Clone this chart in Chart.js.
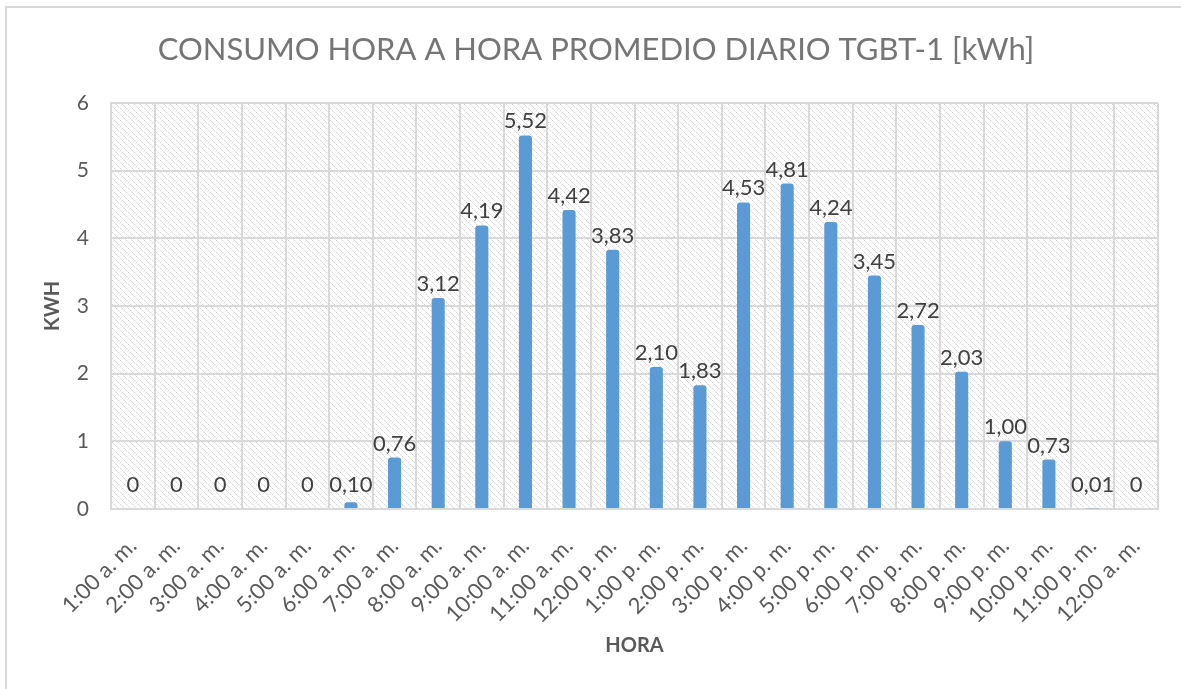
<!DOCTYPE html>
<html lang="es">
<head>
<meta charset="UTF-8">
<title>Consumo hora a hora TGBT-1</title>
<script src="https://cdn.jsdelivr.net/npm/chart.js"></script>
<style>
  html, body { margin: 0; padding: 0; background: #fff; overflow: hidden; }
  .frame { position: absolute; left: 5px; top: 6px; width: 1300px; height: 800px;
           border-left: 2px solid #d9d9d9; border-top: 2px solid #d9d9d9; }
  .wrap { position: absolute; left: 0; top: 0; width: 1181px; height: 689px; }
</style>
</head>
<body>
<div class="frame"></div>
<div class="wrap"><canvas id="kwhChart" width="1181" height="689"></canvas></div>
<script>
const titulo = 'CONSUMO HORA A HORA PROMEDIO DIARIO TGBT-1 [kWh]';
const horas = ['1:00 a. m.', '2:00 a. m.', '3:00 a. m.', '4:00 a. m.', '5:00 a. m.', '6:00 a. m.',
  '7:00 a. m.', '8:00 a. m.', '9:00 a. m.', '10:00 a. m.', '11:00 a. m.', '12:00 p. m.',
  '1:00 p. m.', '2:00 p. m.', '3:00 p. m.', '4:00 p. m.', '5:00 p. m.', '6:00 p. m.',
  '7:00 p. m.', '8:00 p. m.', '9:00 p. m.', '10:00 p. m.', '11:00 p. m.', '12:00 a. m.'];
const consumo = [0, 0, 0, 0, 0, 0.10, 0.76, 3.12, 4.19, 5.52, 4.42, 3.83,
  2.10, 1.83, 4.53, 4.81, 4.24, 3.45, 2.72, 2.03, 1.00, 0.73, 0.01, 0];
const yTicks = [0, 1, 2, 3, 4, 5, 6];

const FONT = 'Lato, "Open Sans", sans-serif';
const gridColor = '#d9d9d9';

// hatched fill for the plot area
function makeHatch() {
  const c = document.createElement('canvas');
  c.width = 6; c.height = 6;
  const g = c.getContext('2d');
  for (let i = 0; i < 6; i++) {
    g.fillStyle = i % 2 === 0 ? '#d4d4d4' : '#e8e8e8';
    g.fillRect(i, i, 1, 1);
  }
  return g.createPattern(c, 'repeat');
}

const hatchPlugin = {
  id: 'hatch',
  beforeDraw(chart) {
    const a = chart.chartArea;
    const ctx = chart.ctx;
    ctx.save();
    ctx.fillStyle = makeHatch();
    ctx.fillRect(a.left, a.top, a.right - a.left, a.bottom - a.top);
    ctx.restore();
  }
};

// title drawn centred on the whole frame, like the original
const titlePlugin = {
  id: 'frameTitle',
  afterDraw(chart) {
    const ctx = chart.ctx;
    ctx.save();
    ctx.font = '31px ' + FONT;
    ctx.fillStyle = '#757575';
    ctx.textAlign = 'center';
    ctx.textBaseline = 'middle';
    ctx.fillText(titulo, 596, 50);
    ctx.restore();
  }
};

const fmt = v => v === 0 ? '0' : v.toFixed(2).replace('.', ',');

const labelPlugin = {
  id: 'valueLabels',
  afterDatasetsDraw(chart) {
    const ctx = chart.ctx;
    const meta = chart.getDatasetMeta(0);
    const lowest = chart.chartArea.bottom - 17;
    ctx.save();
    ctx.font = '22px ' + FONT;
    ctx.fillStyle = '#404040';
    ctx.textAlign = 'center';
    ctx.textBaseline = 'alphabetic';
    meta.data.forEach((bar, i) => {
      ctx.fillText(fmt(consumo[i]), bar.x, Math.min(bar.y - 7, lowest));
    });
    ctx.restore();
  }
};

const ctx = document.getElementById('kwhChart').getContext('2d');
const chart = new Chart(ctx, {
  type: 'bar',
  data: {
    labels: horas,
    datasets: [{
      label: 'kWh',
      data: consumo,
      backgroundColor: '#5b9bd5',
      borderRadius: { topLeft: 3, topRight: 3 },
      borderSkipped: 'bottom',
      barPercentage: 0.3,
      categoryPercentage: 1
    }]
  },
  options: {
    responsive: false,
    animation: false,
    layout: { padding: { left: 5, right: 23, top: 103, bottom: 0 } },
    plugins: {
      legend: { display: false },
      tooltip: { enabled: false },
      title: { display: false }
    },
    scales: {
      x: {
        grid: { color: gridColor, lineWidth: 2, offset: true, drawTicks: false },
        border: { color: gridColor, width: 2 },
        ticks: {
          color: '#595959', font: { family: FONT, size: 22 },
          maxRotation: 45, minRotation: 45, padding: 24, autoSkip: false
        },
        title: {
          display: true, text: 'HORA', color: '#595959',
          font: { family: FONT, size: 20, weight: 'bold' },
          padding: { top: 0, bottom: 31 }
        },
        afterFit(scale) { scale.height = 180; }
      },
      y: {
        min: 0, max: 6,
        grid: { color: gridColor, lineWidth: 2, drawTicks: false },
        border: { color: gridColor, width: 2 },
        afterBuildTicks(scale) { scale.ticks = yTicks.map(v => ({ value: v })); },
        ticks: {
          color: '#595959', font: { family: FONT, size: 21 }, padding: 22,
          callback: v => String(v)
        },
        title: {
          display: true, text: 'KWH', color: '#595959',
          font: { family: FONT, size: 20, weight: 'bold' },
          padding: { top: 36, bottom: 0 }
        },
        afterFit(scale) { scale.width = 106; }
      }
    }
  },
  plugins: [hatchPlugin, labelPlugin, titlePlugin]
});
</script>
</body>
</html>
